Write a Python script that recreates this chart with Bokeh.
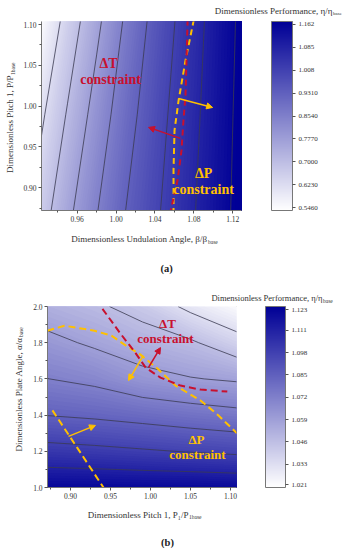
import numpy as np
from math import pi
from bokeh.plotting import figure
from bokeh.models import (LinearColorMapper, ColorBar, FixedTicker, Label, Arrow,
                          NormalHead, Range1d, PrintfTickFormatter)
from bokeh.core.properties import value
from bokeh.embed import file_html
from bokeh.resources import INLINE

# ---------------- panel (a) data ----------------
beta_a = [0.92, 0.95, 0.98, 1.01, 1.04, 1.07, 1.10, 1.13]
pitch_a = [0.87, 0.99, 1.105]
perf_a = [
    [0.655, 0.759, 0.851, 0.932, 0.996, 1.060, 1.124, 1.188],
    [0.599, 0.706, 0.808, 0.901, 0.977, 1.047, 1.116, 1.184],
    [0.532, 0.652, 0.759, 0.865, 0.955, 1.032, 1.108, 1.179],
]
ticks_a = [0.546, 0.623, 0.700, 0.777, 0.854, 0.931, 1.008, 1.085, 1.162]
tick_labels_a = ["0.5460", "0.6230", "0.7000", "0.7770", "0.8540", "0.9310", "1.008", "1.085", "1.162"]
dT_beta = [1.0736, 1.0714, 1.0693, 1.0673, 1.0632, 1.0558]
dT_pitch = [1.106, 1.0131, 0.9824, 0.9457, 0.909, 0.870]
dP_beta = [1.0800, 1.0714, 1.0643, 1.0601, 1.0591, 1.0591]
dP_pitch = [1.106, 1.0559, 1.0069, 0.9702, 0.9212, 0.870]
arrow_a_x0 = [1.0643, 1.0663]
arrow_a_y0 = [1.0094, 0.9604]
arrow_a_x1 = [1.0993, 1.0334]
arrow_a_y1 = [0.9983, 0.9739]
text_a_x = [0.9922, 0.9943, 1.0900, 1.0900]
text_a_y = [1.0522, 1.0326, 0.9175, 0.8979]

# ---------------- panel (b) data ----------------
pitch_b = [0.87, 0.93, 0.99, 1.05, 1.11]
angle_b = [1.0, 1.2, 1.4, 1.6, 1.8, 2.0]
perf_b = [
    [1.1220, 1.1219, 1.1216, 1.1216, 1.1210],
    [1.1023, 1.1009, 1.0992, 1.0974, 1.0956],
    [1.0848, 1.0831, 1.0807, 1.0780, 1.0755],
    [1.0722, 1.0691, 1.0629, 1.0596, 1.0575],
    [1.0625, 1.0571, 1.0519, 1.0477, 1.0377],
    [1.0522, 1.0480, 1.0416, 1.0300, 1.0210],
]
ticks_b = [1.021, 1.033, 1.046, 1.059, 1.072, 1.085, 1.098, 1.111, 1.123]
tick_labels_b = ["1.021", "1.033", "1.046", "1.059", "1.072", "1.085", "1.098", "1.111", "1.123"]
lines_b = [1.033, 1.046, 1.059, 1.072, 1.085, 1.098, 1.111]
dTb_x = [0.940, 0.9625, 0.981, 0.994, 1.0125, 1.0375, 1.0625, 1.096]
dTb_y = [1.987, 1.850, 1.745, 1.662, 1.607, 1.563, 1.541, 1.530]
dPb_x = [0.871, 0.8925, 0.930, 0.95125, 0.9675, 0.9875, 1.00875, 1.03125, 1.0625, 1.085, 1.108]
dPb_y = [1.866, 1.894, 1.866, 1.839, 1.789, 1.734, 1.657, 1.563, 1.481, 1.398, 1.300]
dPb2_x = [0.8775, 0.909, 0.9415]
dPb2_y = [1.426, 1.216, 0.998]
arrow_b_x0 = [0.8975, 0.991, 0.9975]
arrow_b_y0 = [1.2825, 1.728, 1.663]
arrow_b_x1 = [0.93125, 0.9725, 1.0125]
arrow_b_y1 = [1.343, 1.591, 1.773]
arrow_b_col = ["yellow", "yellow", "red"]
text_b_x = [1.02125, 1.01875, 1.0575, 1.05875]
text_b_y = [1.9047, 1.8221, 1.266, 1.1834]

RED = "#c8102e"
YEL = "#ffc000"
FONT = "Liberation Serif"


def blues(n):
    out = []
    for i in range(n):
        t = i / (n - 1)
        r = int(round(255 * (1 - t)))
        b = int(round(255 - t * (255 - 150)))
        out.append("#%02x%02x%02x" % (r, r, b))
    return out


PAL = blues(256)


def lab(p, side, x, y, text, size, align="left", angle=0.0, color="#333333", style="normal"):
    # data-unit position; placed in a side panel so it is not clipped to the frame
    p.add_layout(Label(x=x, y=y, text=text,
                       text_align=align, text_baseline="middle", angle=angle,
                       text_font=FONT, text_font_size=size, text_color=color,
                       text_font_style=style), side)


def smooth_fill(p, x, y, z, lv_lo, lv_hi, n, cmin, cmax):
    # stacked filled contours (z >= level), drawn from low to high: smooth gradient, no seams
    z = np.array(z)
    top = float(z.max()) + 1.0
    levels = np.linspace(lv_lo, lv_hi, n)
    step = levels[1] - levels[0]
    for lv in levels:
        if lv >= z.max():
            break
        t = min(max((lv + step / 2 - cmin) / (cmax - cmin), 0.0), 1.0)
        p.contour(x, y, z, levels=[float(lv), top], fill_color=[PAL[int(round(t * 255))]],
                  line_color=None)


def style_axes(p, xt, xminor, yt, yminor, xfmt, yfmt):
    p.xaxis.ticker = FixedTicker(ticks=xt, minor_ticks=xminor)
    p.yaxis.ticker = FixedTicker(ticks=yt, minor_ticks=yminor)
    p.xaxis.formatter = PrintfTickFormatter(format=xfmt)
    p.yaxis.formatter = PrintfTickFormatter(format=yfmt)
    for ax in (p.xaxis, p.yaxis):
        ax.major_label_text_font = FONT
        ax.major_label_text_font_size = "7.5px"
        ax.major_label_text_color = "#333333"
        ax.major_tick_in = 0
        ax.major_tick_out = 3
        ax.minor_tick_in = 0
        ax.minor_tick_out = 2
        ax.major_tick_line_color = "#555555"
        ax.minor_tick_line_color = "#555555"
        ax.axis_line_color = "#777777"
        ax.major_label_standoff = 2
    p.xgrid.visible = False
    p.ygrid.visible = False
    p.outline_line_color = "#777777"


# ======================= panel (a) =======================
pa = figure(frame_width=200, frame_height=189, min_border_left=41, min_border_right=103,
            min_border_top=21, min_border_bottom=70,
            x_range=Range1d(0.9233, 1.129), y_range=Range1d(0.872, 1.1037),
            output_backend="svg", toolbar_location=None)
lo_a, hi_a = 0.536, 1.172
smooth_fill(pa, beta_a, pitch_a, perf_a, 0.50, 1.20, 101, lo_a, hi_a)
pa.contour(beta_a, pitch_a, np.array(perf_a), levels=ticks_a[1:],
           line_color="#3a3a50", line_width=0.8)
pa.line(dP_beta, dP_pitch, line_color=YEL, line_width=2, line_dash="6 4")
pa.line(dT_beta, dT_pitch, line_color=RED, line_width=2, line_dash="6 4")
for x0, y0, x1, y1, c in zip(arrow_a_x0, arrow_a_y0, arrow_a_x1, arrow_a_y1, [YEL, RED]):
    pa.add_layout(Arrow(end=NormalHead(size=6, fill_color=c, line_color=c),
                        x_start=x0, y_start=y0, x_end=x1, y_end=y1,
                        line_color=c, line_width=1.5))
pa.text(text_a_x[:2], text_a_y[:2], text=["ΔT", "constraint"], text_color=RED,
        text_font=value(FONT), text_font_style="bold", text_font_size="14px",
        text_align="center", text_baseline="middle")
pa.text(text_a_x[2:], text_a_y[2:], text=["ΔP", "constraint"], text_color=YEL,
        text_font=value(FONT), text_font_style="bold", text_font_size="14px",
        text_align="center", text_baseline="middle")
style_axes(pa, [0.96, 1.00, 1.04, 1.08, 1.12], [0.94, 0.98, 1.02, 1.06, 1.10],
           [0.90, 0.95, 1.00, 1.05, 1.10], [0.875, 0.925, 0.975, 1.025, 1.075],
           "%.2f", "%.2f")
map_a = LinearColorMapper(palette=PAL, low=lo_a, high=hi_a)
cb_a = ColorBar(color_mapper=map_a, ticker=FixedTicker(ticks=ticks_a),
                major_label_overrides=dict(zip(ticks_a, tick_labels_a)),
                location=(230, 0), width=21, height=189, padding=0, margin=0,
                major_tick_in=0, major_tick_out=3, major_tick_line_color="#555555",
                bar_line_color="#777777", major_label_text_font=FONT,
                major_label_text_font_size="7px", major_label_text_color="#333333",
                label_standoff=3, background_fill_alpha=0)
pa.add_layout(cb_a)
lab(pa, "below", 1.0940, 0.8365, "Dimensionless Undulation Angle, β/β", "9px", align="right")
lab(pa, "below", 1.0945, 0.8334, "base", "5.5px")
lab(pa, "below", 1.0519, 0.8009, "(a)", "10.5px", align="center", color="#222222", style="bold")
lab(pa, "below", 1.2226, 1.1160, "Dimensionless Performance, η/η", "9px", align="right")
lab(pa, "below", 1.2231, 1.1129, "base", "5px")
lab(pa, "right", 0.8914, 1.0375, "Dimensionless Pitch 1, P/P", "9px", align="right", angle=pi / 2)
lab(pa, "right", 0.8940, 1.0381, "1base", "5.5px", angle=pi / 2)

# ======================= panel (b) =======================
pb = figure(frame_width=189, frame_height=181, min_border_left=47, min_border_right=108,
            min_border_top=26, min_border_bottom=63,
            x_range=Range1d(0.8713, 1.1075), y_range=Range1d(1.0, 2.0),
            output_backend="svg", toolbar_location=None)
lo_b, hi_b = 1.0194, 1.1249
smooth_fill(pb, pitch_b, angle_b, perf_b, 1.00, 1.13, 91, lo_b, hi_b)
pb.contour(pitch_b, angle_b, np.array(perf_b), levels=lines_b,
           line_color="#3a3a50", line_width=0.8)
pb.line(dPb_x, dPb_y, line_color=YEL, line_width=2, line_dash="7 4")
pb.line(dPb2_x, dPb2_y, line_color=YEL, line_width=2, line_dash="7 4")
pb.line(dTb_x, dTb_y, line_color=RED, line_width=2, line_dash="7 4")
for x0, y0, x1, y1, c in zip(arrow_b_x0, arrow_b_y0, arrow_b_x1, arrow_b_y1, arrow_b_col):
    col = YEL if c == "yellow" else RED
    pb.add_layout(Arrow(end=NormalHead(size=6, fill_color=col, line_color=col),
                        x_start=x0, y_start=y0, x_end=x1, y_end=y1,
                        line_color=col, line_width=1.5))
pb.text(text_b_x[:2], text_b_y[:2], text=["ΔT", "constraint"], text_color=RED,
        text_font=value(FONT), text_font_style="bold", text_font_size="13px",
        text_align="center", text_baseline="middle")
pb.text(text_b_x[2:], text_b_y[2:], text=["ΔP", "constraint"], text_color=YEL,
        text_font=value(FONT), text_font_style="bold", text_font_size="13px",
        text_align="center", text_baseline="middle")
style_axes(pb, [0.90, 0.95, 1.00, 1.05, 1.10], [0.875, 0.925, 0.975, 1.025, 1.075],
           [1.0, 1.2, 1.4, 1.6, 1.8, 2.0], [1.1, 1.3, 1.5, 1.7, 1.9],
           "%.2f", "%.1f")
map_b = LinearColorMapper(palette=PAL, low=lo_b, high=hi_b)
cb_b = ColorBar(color_mapper=map_b, ticker=FixedTicker(ticks=ticks_b),
                major_label_overrides=dict(zip(ticks_b, tick_labels_b)),
                location=(218, 0), width=20, height=181, padding=0, margin=0,
                major_tick_in=0, major_tick_out=3, major_tick_line_color="#555555",
                bar_line_color="#777777", major_label_text_font=FONT,
                major_label_text_font_size="7px", major_label_text_color="#333333",
                label_standoff=3, background_fill_alpha=0)
pb.add_layout(cb_b)
lab(pb, "below", 1.0475, 0.8508, "Dimensionless Pitch 1, P₁/P", "9px", align="right")
lab(pb, "below", 1.0481, 0.8370, "1base", "5.5px")
lab(pb, "below", 1.0213, 0.6978, "(b)", "10.5px", align="center", color="#222222", style="bold")
lab(pb, "above", 1.2150, 2.0442, "Dimensionless Performance, η/η", "8.5px", align="right")
lab(pb, "above", 1.2156, 2.0304, "base", "5.5px")
lab(pb, "right", 0.8351, 1.8287, "Dimensionless Plate Angle, α/α", "9px", align="right", angle=pi / 2)
lab(pb, "right", 0.8382, 1.8315, "base", "5.5px", angle=pi / 2)

open("out.html", "w").write(file_html([pa, pb], INLINE))
